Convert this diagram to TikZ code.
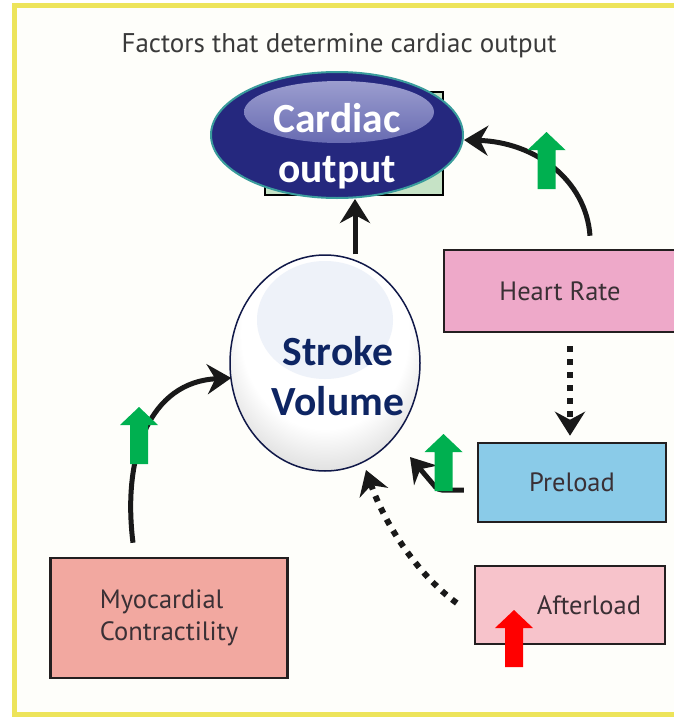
\documentclass[tikz,border=0pt]{standalone}
\usepackage{fontspec}
\usetikzlibrary{arrows.meta,shapes.geometric,calc}
\newfontfamily\myriad{PT Sans}
\newfontfamily\calib{Carlito}
\definecolor{borderyellow}{HTML}{EDE45A}
\definecolor{paper}{HTML}{FEFEFA}
\definecolor{textgray}{HTML}{3A3A3A}
\definecolor{boxtext}{HTML}{3A3035}
\definecolor{boxline}{HTML}{231F20}
\definecolor{cogreen}{HTML}{C6E3C6}
\definecolor{conavy}{HTML}{25287E}
\definecolor{coteal}{HTML}{3A9C9C}
\definecolor{hltop}{HTML}{A3A5D3}
\definecolor{hlbot}{HTML}{3A3E98}
\definecolor{svnavy}{HTML}{101848}
\definecolor{svtext}{HTML}{0E2563}
\definecolor{svhl}{HTML}{EEF2F9}
\definecolor{hrfill}{HTML}{EEA9C9}
\definecolor{prefill}{HTML}{8ACBE8}
\definecolor{alfill}{HTML}{F7C3CB}
\definecolor{myofill}{HTML}{F2A8A0}
\definecolor{upgreen}{HTML}{00B050}
\definecolor{upred}{HTML}{FF0000}
\pgfdeclareradialshading{svshade}{\pgfpoint{0bp}{12bp}}{color(0bp)=(white); color(22bp)=(white); color(50bp)=(black!42)}
\tikzset{
  box/.style={draw=boxline, line width=2.5pt, inner sep=0pt, font=\myriad\fontsize{26.5}{32}\selectfont, text=boxtext},
  conn/.style={line width=5pt, draw=black!90, -{Stealth[length=24pt,width=30pt,inset=8pt]}},
  dotconn/.style={line width=6pt, draw=black!90, dash pattern=on 6pt off 7pt, -{Stealth[length=24pt,width=30pt,inset=8pt]}},
  uparrow/.pic={\fill[pic actions] (0,0) -- (19,18) -- (9,18) -- (9,57) -- (-9,57) -- (-9,18) -- (-19,18) -- cycle;}
}
\begin{document}
\begin{tikzpicture}[x=1pt,y=-1pt]
\useasboundingbox (0,0) rectangle (673,717);
\fill[white] (0,0) rectangle (673,717);
\draw[line width=5pt, draw=borderyellow, fill=paper] (14.5,5.5) rectangle (710,714);

\node[font=\myriad\fontsize{27}{32}\selectfont, text=textgray] (title) at (339,46) {Factors that determine cardiac output};

% cardiac output
\node[draw=black, line width=2.5pt, fill=cogreen, minimum width=178pt, minimum height=103pt, inner sep=0pt] (cobox) at (354,143.5) {};
\node[ellipse, draw=coteal, line width=2pt, fill=conavy, minimum width=252pt, minimum height=126pt, inner sep=0pt,
  path picture={\shade[top color=hltop, bottom color=hlbot] ($(path picture bounding box.center)+(2,-23)$) ellipse [x radius=95, y radius=31];}] (co) at (337,135) {};
\node[font=\calib\bfseries\fontsize{41.5}{50}\selectfont, text=white, align=center] (cotext) at (337,146) {Cardiac\\output};

% stroke volume
\node[ellipse, draw=svnavy, line width=1.5pt, minimum width=190pt, minimum height=216pt, inner sep=0pt, shading=svshade,
  path picture={\fill[svhl] ($(path picture bounding box.center)+(0,-43)$) ellipse [x radius=68, y radius=59];}] (sv) at (325,363) {};
\node[font=\calib\bfseries\fontsize{41.5}{50}\selectfont, text=svtext, align=center] (svtext) at (338,376) {Stroke\\Volume};

% boxes
\node[box, fill=hrfill, minimum width=232pt, minimum height=82pt] (hr) at (560,291) {Heart Rate};
\node[box, fill=prefill, minimum width=188pt, minimum height=79pt] (pre) at (572,482.5) {Preload};
\node[box, fill=alfill, minimum width=190pt, minimum height=78pt] (al) at (570,605) {};
\node[font=\myriad\fontsize{26.5}{32}\selectfont, text=boxtext] (altext) at (589,605) {Afterload};
\node[box, fill=myofill, minimum width=237pt, minimum height=120pt, align=left] (myo) at (169,618) {Myocardial\\Contractility};

% connectors
\draw[conn] ([xshift=30pt]sv.north) -- ([xshift=18pt]co.south);
\draw[conn] ([xshift=30pt,yshift=13pt]hr.north) .. controls (586,180) and (535,142) .. ([yshift=-5pt]co.east);
\draw[dotconn] ([xshift=10pt,yshift=-13pt]hr.south) -- ([xshift=-2pt,yshift=6pt]pre.north);
\draw[conn, rounded corners=4pt] ([xshift=-13pt,yshift=-7.5pt]pre.west) -- (438,490) -- ([xshift=85pt,yshift=-94pt]sv.center);
\draw[dotconn] ([xshift=-17pt,yshift=2pt]al.west) .. controls (418,575) and (385,525) .. ([xshift=41pt,yshift=-107pt]sv.center);
\draw[conn] ([xshift=-36pt,yshift=14pt]myo.north) .. controls (122,455) and (150,382) .. ([xshift=2pt,yshift=-15pt]sv.west);

% up/down indicators
\pic[fill=upgreen] at (546.5,132) {uparrow};
\pic[fill=upgreen] at (139,407) {uparrow};
\pic[fill=upgreen] at (443.5,434) {uparrow};
\pic[fill=upred] at (514,610) {uparrow};
\end{tikzpicture}
\end{document}
